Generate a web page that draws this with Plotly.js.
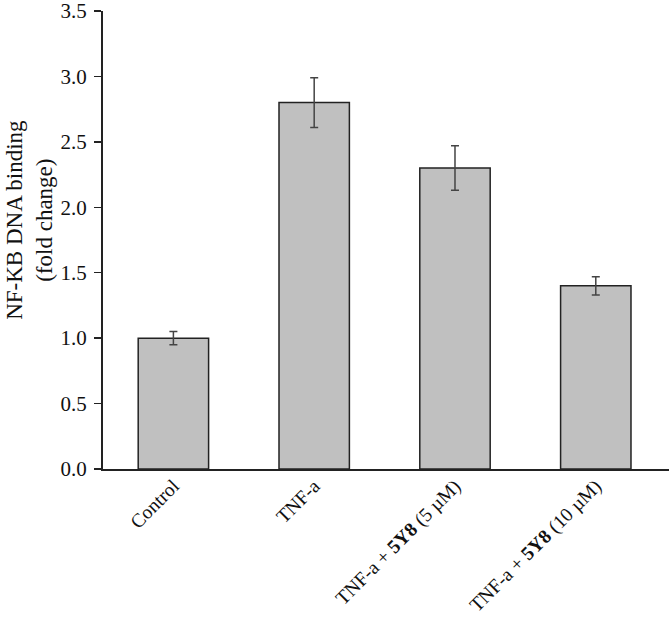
<!DOCTYPE html>
<html>
<head>
<meta charset="utf-8">
<script src="https://cdn.plot.ly/plotly-3.0.1.min.js"></script>
<style>html,body{margin:0;padding:0;background:#fff;}#chart{width:669px;height:617px;}</style>
</head>
<body>
<div id="chart"></div>
<script>
const categories = ["Control", "TNF-a", "TNF-a + 5Y8 (5 µM)", "TNF-a + 5Y8 (10 µM)"];
const tickLabels = ["Control", "TNF-a", "TNF-a + <b>5Y8</b> (5 µM)", "TNF-a + <b>5Y8</b> (10 µM)"];
const values = [1.0, 2.8, 2.3, 1.4];
const errors = [0.05, 0.19, 0.17, 0.07];
const yTicks = [0, 0.5, 1.0, 1.5, 2.0, 2.5, 3.0, 3.5];
const yTitle = "NF-KB DNA binding<br>(fold change)";

const trace = {
  type: "bar",
  x: categories,
  y: values,
  marker: {color: "#c0c0c0", line: {color: "#222", width: 1.5}},
  error_y: {type: "data", array: errors, visible: true, color: "#444", thickness: 1.5, width: 4},
  width: 0.5
};

const layout = {
  width: 669, height: 617,
  margin: {l: 103, r: 0, t: 11, b: 148},
  paper_bgcolor: "#fff", plot_bgcolor: "#fff",
  font: {family: "Liberation Serif, Times New Roman, serif", size: 20, color: "#111"},
  showlegend: false,
  xaxis: {
    range: [-0.5, 3.52],
    tickmode: "array", tickvals: categories, ticktext: tickLabels,
    tickangle: -45, ticks: "", showgrid: false, zeroline: false,
    showline: true, linecolor: "#222", linewidth: 2,
    ticklabeloverflow: "allow", ticklabelstandoff: -4,
    tickfont: {size: 19.5}
  },
  yaxis: {
    range: [0, 3.5],
    tickmode: "array", tickvals: yTicks,
    ticktext: yTicks.map(v => v.toFixed(1)),
    ticks: "outside", ticklen: 7, tickwidth: 1.5, tickcolor: "#222",
    ticklabelstandoff: 3, ticklabeloverflow: "allow",
    showgrid: false, zeroline: false,
    showline: true, linecolor: "#222", linewidth: 2,
    tickfont: {size: 21}
  },
  annotations: [{
    text: yTitle, textangle: -90, showarrow: false,
    xref: "paper", yref: "paper", x: -0.129, y: 0.544,
    xanchor: "center", yanchor: "middle",
    font: {size: 23, color: "#111"}
  }]
};

Plotly.newPlot("chart", [trace], layout, {displayModeBar: false, staticPlot: true});
</script>
</body>
</html>
